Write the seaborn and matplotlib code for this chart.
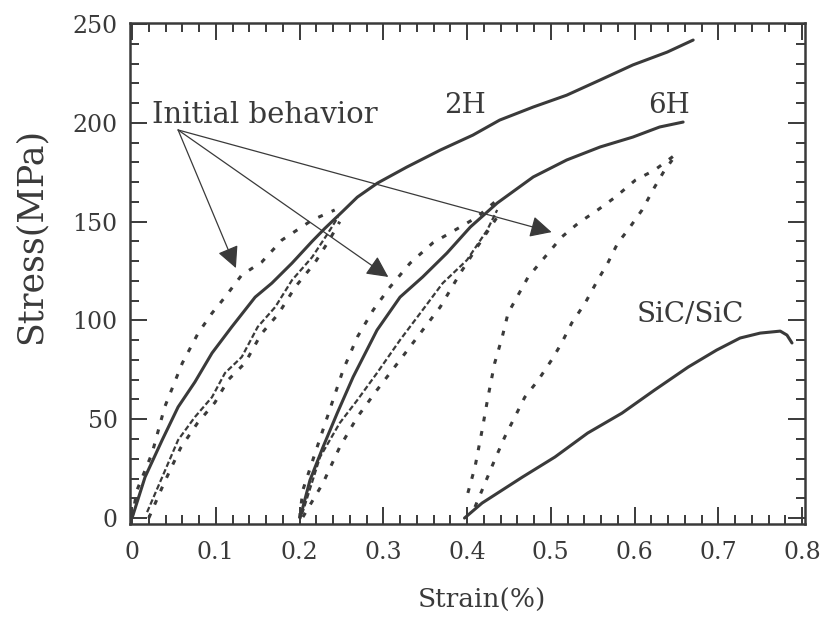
import numpy as np
import pandas as pd
import matplotlib
matplotlib.use("Agg")
import matplotlib.pyplot as plt
from matplotlib.ticker import MultipleLocator
import seaborn as sns

# --- data (strain %, stress MPa) ---
# group starting at 0 (2H composite, continues to the top)
h2_x = [0.0, 0.0155, 0.036, 0.055, 0.075, 0.0955, 0.119, 0.147, 0.167, 0.191, 0.215, 0.230,
        0.251, 0.269, 0.293, 0.328, 0.368, 0.407, 0.439, 0.479, 0.519, 0.559, 0.598, 0.639, 0.670]
h2_y = [0, 20.7, 39.5, 56.2, 68.8, 83.5, 96.7, 111.8, 118.9, 129, 140, 146.5,
        155, 162.4, 169.5, 177.6, 186.2, 193.8, 201.4, 208, 214, 221.7, 229.3, 235.8, 241.9]

g1_up_x = [0.0, 0.006, 0.024, 0.039, 0.060, 0.079, 0.0955, 0.111, 0.131, 0.155, 0.179, 0.215, 0.242]
g1_up_y = [0, 14.2, 32.9, 56.2, 78.4, 93.6, 103.7, 111.8, 123, 129.6, 140.7, 150.8, 155.9]

g1_low_x = [0.018, 0.036, 0.055, 0.075, 0.0955, 0.111, 0.131, 0.150, 0.171, 0.191, 0.215, 0.234, 0.246]
g1_low_y = [3, 20.7, 39.5, 51.1, 61.2, 73.4, 81.5, 96.7, 106.8, 120.4, 132, 144.2, 152.3]

g1_low2_x = [0.020, 0.038, 0.058, 0.078, 0.099, 0.115, 0.135, 0.154, 0.175, 0.195, 0.218, 0.236, 0.248]
g1_low2_y = [0, 17.5, 35.5, 48.0, 58.5, 70.0, 78.5, 93.0, 103.5, 117.0, 129.0, 141.0, 150.0]

# group starting at 0.2 (6H composite, continues to the top)
h6_x = [0.2006, 0.2125, 0.228, 0.245, 0.264, 0.2925, 0.320, 0.347, 0.376, 0.404, 0.436,
        0.479, 0.519, 0.559, 0.598, 0.630, 0.658]
h6_y = [0, 19.2, 35.9, 53.1, 71.4, 95.1, 111.8, 122, 134.1, 147.3, 159.4,
        172.6, 181.2, 187.8, 192.8, 197.9, 200.4]

g2_up_x = [0.200, 0.204, 0.221, 0.236, 0.252, 0.269, 0.288, 0.308, 0.332, 0.359, 0.392, 0.412, 0.436]
g2_up_y = [0, 14.2, 35.9, 54.7, 74.9, 91.6, 105.3, 116.9, 129, 139.2, 147.3, 152.3, 161]

g2_mid_x = [0.203, 0.2245, 0.248, 0.269, 0.2925, 0.320, 0.347, 0.371, 0.400, 0.424, 0.436]
g2_mid_y = [2, 30.9, 48.1, 59.7, 73.4, 90.1, 105.3, 118.9, 130.6, 145.7, 155.9]

g2_low_x = [0.204, 0.228, 0.248, 0.269, 0.2925, 0.320, 0.347, 0.368, 0.392, 0.412, 0.436]
g2_low_y = [0.5, 17.7, 35.9, 51.1, 64.8, 80, 95.1, 106.8, 124, 137.1, 152.3]

# group starting at 0.4 (SiC/SiC)
sic_x = [0.397, 0.418, 0.466, 0.505, 0.544, 0.585, 0.624, 0.664, 0.698, 0.726, 0.750, 0.774, 0.782, 0.788]
sic_y = [0, 7.6, 20.7, 30.9, 43, 53.1, 64.8, 76.4, 85, 91.1, 93.6, 94.6, 92.6, 88.6]

g3_up_x = [0.401, 0.4095, 0.418, 0.425, 0.433, 0.442, 0.449, 0.473, 0.493, 0.513, 0.533, 0.556,
           0.577, 0.601, 0.624, 0.645, 0.652]
g3_up_y = [12.7, 25.8, 44.5, 61.2, 78.4, 91.6, 103.7, 122, 132.1, 142.2, 149.3, 155.9,
           162.4, 171, 176.1, 182.7, 185]

g3_low_x = [0.4095, 0.4215, 0.433, 0.445, 0.457, 0.469, 0.485, 0.501, 0.513, 0.525, 0.541, 0.556,
            0.568, 0.580, 0.592, 0.609, 0.624, 0.636, 0.645]
g3_low_y = [5.6, 17.7, 29.4, 41, 51.1, 61.2, 69.8, 80, 88.6, 98.7, 108.8, 120.4,
            129, 139.2, 145.7, 155.9, 167.5, 176.1, 181.2]

# annotation anchors
arrow_start = (0.055, 196.4)
arrow_tips_x = [0.124, 0.306, 0.501]
arrow_tips_y = [126.5, 122.0, 144.7]

x_ticks = [0, 0.1, 0.2, 0.3, 0.4, 0.5, 0.6, 0.7, 0.8]
x_tick_labels = ["0", "0.1", "0.2", "0.3", "0.4", "0.5", "0.6", "0.7", "0.8"]
y_ticks = [0, 50, 100, 150, 200, 250]

sns.set_theme(style="ticks")
plt.rcParams["font.family"] = ["DejaVu Serif"]
ink = "#3a3a3a"

fig = plt.figure(figsize=(8.24, 6.19), dpi=100)
ax = fig.add_axes([0.1578, 0.1535, 0.8192, 0.8099])

solid = dict(color=ink, lw=2.2, linestyle="-")
dotted = dict(color=ink, lw=2.2, linestyle=(0, (1.6, 3.2)))
jagged = dict(color=ink, lw=1.6, linestyle=(0, (2.5, 1.2)))

def draw(x, y, style):
    d = pd.DataFrame({"strain": x, "stress": y})
    sns.lineplot(data=d, x="strain", y="stress", sort=False, estimator=None, ax=ax, **style)

draw(h2_x, h2_y, solid)
draw(g1_up_x, g1_up_y, dotted)
draw(g1_low_x, g1_low_y, jagged)
draw(g1_low2_x, g1_low2_y, dotted)
draw(h6_x, h6_y, solid)
draw(g2_up_x, g2_up_y, dotted)
draw(g2_mid_x, g2_mid_y, jagged)
draw(g2_low_x, g2_low_y, dotted)
draw(sic_x, sic_y, solid)
draw(g3_up_x, g3_up_y, dotted)
draw(g3_low_x, g3_low_y, dotted)

for tx, ty in zip(arrow_tips_x, arrow_tips_y):
    ax.annotate("", xy=(tx, ty), xytext=arrow_start,
                arrowprops=dict(arrowstyle="-|>,head_length=1.1,head_width=0.55",
                                color=ink, lw=0.9, shrinkA=0, shrinkB=0))

ax.text(0.024, 204, "Initial behavior", fontsize=21, color=ink, ha="left", va="center")
ax.text(0.398, 209, "2H", fontsize=20, color=ink, ha="center", va="center")
ax.text(0.641, 209, "6H", fontsize=20, color=ink, ha="center", va="center")
ax.text(0.667, 103, "SiC/SiC", fontsize=20, color=ink, ha="center", va="center")

ax.set_xlim(-0.0024, 0.8036)
ax.set_ylim(-3.0, 250.7)
ax.set_xticks(x_ticks)
ax.set_xticklabels(x_tick_labels)
ax.set_yticks(y_ticks)
ax.xaxis.set_minor_locator(MultipleLocator(0.02))
ax.yaxis.set_minor_locator(MultipleLocator(10))
ax.tick_params(which="both", direction="in", top=True, right=True, colors=ink, width=1.4)
ax.tick_params(which="major", length=12, labelsize=17)
ax.tick_params(axis="x", which="major", pad=12)
ax.tick_params(axis="y", which="major", pad=9)
ax.tick_params(which="minor", length=6.5)
for s in ax.spines.values():
    s.set_linewidth(1.8)
    s.set_color(ink)

ax.set_xlabel("Strain(%)", fontsize=19, color=ink, va="center")
ax.set_ylabel("Stress(MPa)", fontsize=25, color=ink, va="center")
ax.xaxis.set_label_coords(0.521, -0.152)
ax.yaxis.set_label_coords(-0.147, 0.574)

fig.savefig("out.png", dpi=100, facecolor="white")
